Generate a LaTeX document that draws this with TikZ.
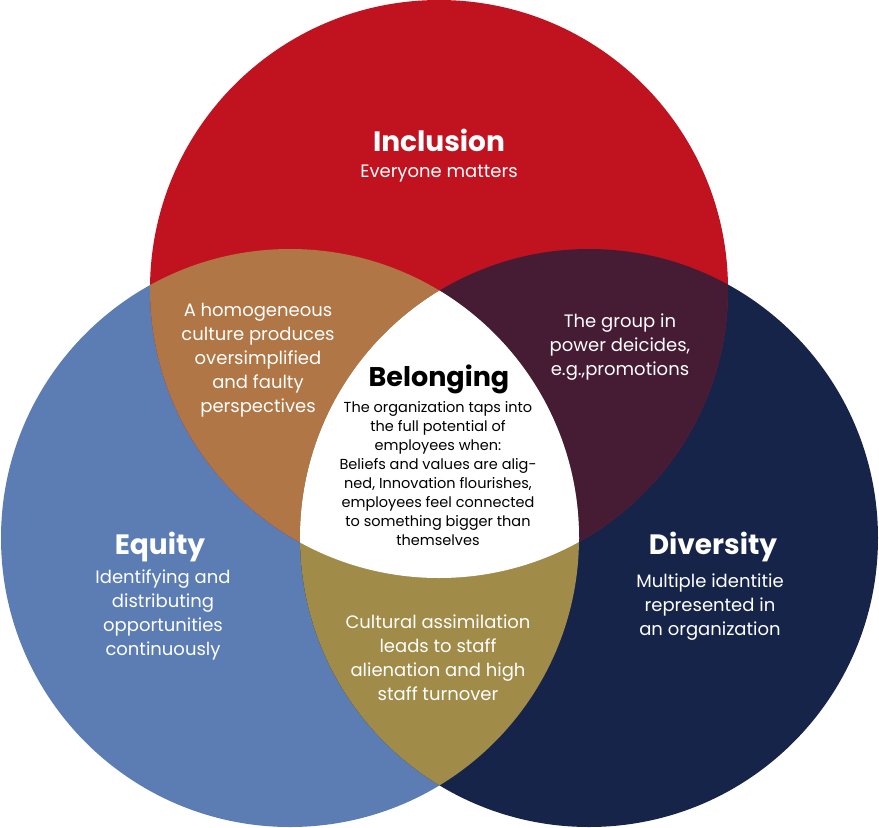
\documentclass[tikz,border=0pt]{standalone}
\usepackage{fontspec}
\setmainfont{Poppins}
\usetikzlibrary{positioning}
\definecolor{incred}{HTML}{C1131F}
\definecolor{equblue}{HTML}{5B7DB4}
\definecolor{divnavy}{HTML}{17244A}
\definecolor{ochre}{HTML}{B07645}
\definecolor{plum}{HTML}{461B34}
\definecolor{khaki}{HTML}{A08B48}

\begin{document}
\begin{tikzpicture}[x=1pt, y=-1pt,
    ttl/.style={font=\fontsize{28}{30}\selectfont\bfseries, text=white},
    txt/.style={font=\fontsize{18}{24}\selectfont, text=white, align=center},
    btxt/.style={font=\fontsize{14.5}{19}\selectfont, text=black, align=center},
]
    \useasboundingbox (0,0) rectangle (879,828);
    \coordinate (inc) at (439,289);
    \coordinate (equ) at (290,538);
    \coordinate (div) at (589,538);

    % circles
    \fill[equblue] (equ) circle (289pt);
    \fill[divnavy] (div) circle (289pt);
    \fill[incred] (inc) circle (289pt);

    % overlaps
    \begin{scope}
        \clip (inc) circle (289pt);
        \fill[ochre] (equ) circle (289pt);
        \fill[plum] (div) circle (289pt);
    \end{scope}
    \begin{scope}
        \clip (equ) circle (289pt);
        \fill[khaki] (div) circle (289pt);
        \clip (div) circle (289pt);
        \fill[white] (inc) circle (289pt);
    \end{scope}

    \node[ttl] (inctitle) at (439,140) {Inclusion};
    \node[txt] (inctext) at (439,174) {Everyone matters};

    \node[ttl] (equtitle) at (160,547) {Equity};
    \node[txt] (equtext) at (163,615) {Identifying and\\distributing\\opportunities\\continuously};

    \node[ttl] (divtitle) at (713,547) {Diversity};
    \node[txt] (divtext) at (710,607) {Multiple identitie\\represented in\\an organization};

    \node[txt] (ietext) at (258,360) {A homogeneous\\culture produces\\oversimplified\\and faulty\\perspectives};
    \node[txt] (idtext) at (620,347) {The group in\\power deicides,\\e.g.,promotions};
    \node[txt] (edtext) at (438,658) {Cultural assimilation\\leads to staff\\alienation and high\\staff turnover};

    \node[ttl, text=black, font=\fontsize{27}{30}\selectfont\bfseries] (beltitle) at (439,379) {Belonging};
    \node[btxt] (beltext) at (438,474) {The organization taps into\\the full potential of\\employees when:\\Beliefs and values are alig-\\ned, Innovation flourishes,\\employees feel connected\\to something bigger than\\themselves};
\end{tikzpicture}
\end{document}
